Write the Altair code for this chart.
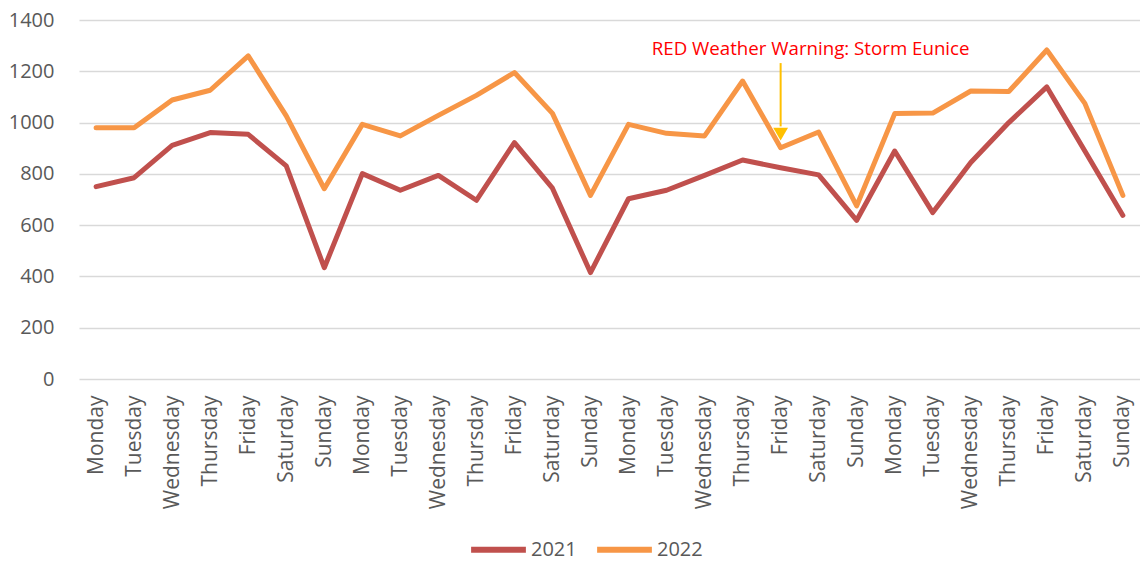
import altair as alt
import pandas as pd

week = ["Monday", "Tuesday", "Wednesday", "Thursday", "Friday", "Saturday", "Sunday"]
tick_labels = week * 4

values_2021 = [750, 785, 911, 961, 954, 831, 434,
               801, 736, 794, 697, 922, 744, 415,
               703, 736, 794, 854, 824, 796, 619,
               889, 649, 844, 1000, 1139, 889, 638]
values_2022 = [980, 980, 1088, 1126, 1260, 1026, 742,
               993, 948, 1028, 1106, 1195, 1036, 716,
               993, 958, 948, 1162, 902, 963, 675,
               1035, 1037, 1123, 1121, 1283, 1075, 716]
series = ["2021", "2022"]
colors = ["#C0504D", "#F79646"]

annotation_text = "RED Weather Warning: Storm Eunice"
annotation_idx = 18

rows = []
for i in range(len(tick_labels)):
    rows.append({"idx": i, "year": "2021", "value": values_2021[i]})
    rows.append({"idx": i, "year": "2022", "value": values_2022[i]})
df = pd.DataFrame(rows)

label_expr = "[" + ",".join(f"'{d}'" for d in tick_labels) + "][datum.value]"

FONT = "Open Sans"
GREY = "#595959"

x_enc = alt.X(
    "idx:O",
    scale=alt.Scale(type="point", padding=0.45),
    axis=alt.Axis(title=None, labelExpr=label_expr, labelAngle=-90, ticks=False,
                  domain=False, labelPadding=16, labelFontSize=21, labelColor=GREY,
                  labelFont=FONT, grid=False),
)
y_enc = alt.Y(
    "value:Q",
    scale=alt.Scale(domain=[0, 1400]),
    axis=alt.Axis(title=None, values=list(range(0, 1401, 200)), format="d", grid=True,
                  gridColor="#D9D9D9", gridWidth=1.5, domain=False, ticks=False,
                  labelPadding=25, labelFontSize=20, labelColor=GREY, labelFont=FONT),
)

lines = alt.Chart(df).mark_line(strokeWidth=5, strokeCap="round", strokeJoin="round").encode(
    x=x_enc,
    y=y_enc,
    color=alt.Color(
        "year:N",
        scale=alt.Scale(domain=series, range=colors),
        legend=alt.Legend(title=None, orient="none", legendX=389, legendY=499,
                          direction="horizontal", symbolType="stroke",
                          symbolStrokeWidth=6, symbolSize=3000, labelFontSize=20,
                          labelColor=GREY, labelFont=FONT, columnPadding=8,
                          labelOffset=2),
    ),
)

ann = pd.DataFrame({
    "idx": [annotation_idx],
    "text": [annotation_text],
    "y_text": [1285],
    "y_start": [1232],
    "y_end": [985],
    "y_tip": [955],
})

text = alt.Chart(ann).mark_text(color="#FF0000", fontSize=18.7, font=FONT, dx=30,
                                baseline="middle").encode(
    x=alt.X("idx:O"), y=alt.Y("y_text:Q"), text="text:N")
rule = alt.Chart(ann).mark_rule(color="#FFC000", strokeWidth=2).encode(
    x=alt.X("idx:O"), y=alt.Y("y_start:Q"), y2="y_end:Q")
tip = alt.Chart(ann).mark_point(shape="triangle-down", filled=True, color="#FFC000",
                                size=220, opacity=1).encode(
    x=alt.X("idx:O"), y=alt.Y("y_tip:Q"))

chart = alt.layer(lines, text, rule, tip).properties(
    width=1061, height=359,
    padding={"left": 0, "top": 2, "right": 0, "bottom": 0},
).configure_view(stroke=None)

chart.save("out.html", embed_options={"renderer": "svg", "actions": False})
